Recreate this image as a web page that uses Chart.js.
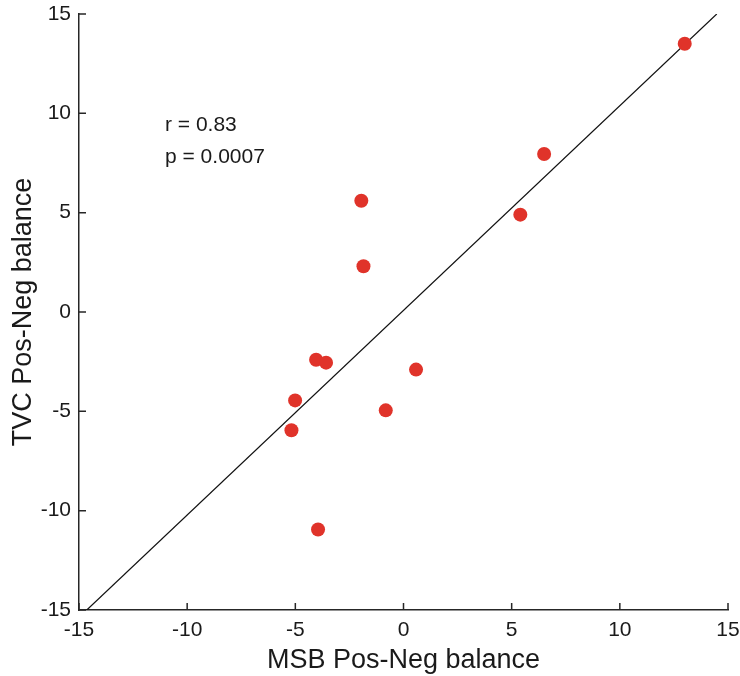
<!DOCTYPE html>
<html>
<head>
<meta charset="utf-8">
<script src="https://cdn.jsdelivr.net/npm/chart.js@4.4.1/dist/chart.umd.min.js"></script>
<style>
html,body{margin:0;padding:0;background:#fff;}
#wrap{width:740px;height:676px;}
</style>
</head>
<body>
<div id="wrap"><canvas id="c" width="740" height="676"></canvas></div>
<script>
const msb = [13.0, 6.5, 5.4, -1.95, -1.85, -4.04, -3.58, -5.01, -5.18, 0.58, -0.82, -3.95];
const tvc = [13.5, 7.95, 4.9, 5.6, 2.3, -2.4, -2.55, -4.45, -5.95, -2.9, -4.95, -10.95];
const fitX = [-14.64, 14.48];
const fitY = [-15, 15];
const tickValues = [-15, -10, -5, 0, 5, 10, 15];
const xTitle = 'MSB Pos-Neg balance';
const yTitle = 'TVC Pos-Neg balance';
const statsText = ['r = 0.83', 'p = 0.0007'];

const FONT = "'Liberation Sans', Arial, sans-serif";
const axisColor = '#262626';

const inwardTicks = {
  id: 'inwardTicks',
  afterDraw(chart) {
    const ctx = chart.ctx, xs = chart.scales.x, ys = chart.scales.y, a = chart.chartArea;
    ctx.save();
    ctx.strokeStyle = axisColor;
    ctx.lineWidth = 1.5;
    ctx.beginPath();
    tickValues.forEach(v => {
      const px = xs.getPixelForValue(v);
      ctx.moveTo(px, a.bottom); ctx.lineTo(px, a.bottom - 7);
      const py = ys.getPixelForValue(v);
      ctx.moveTo(a.left, py); ctx.lineTo(a.left + 7, py);
    });
    ctx.stroke();
    ctx.fillStyle = '#1a1a1a';
    ctx.font = '21px ' + FONT;
    ctx.textBaseline = 'middle';
    ctx.textAlign = 'left';
    ctx.fillText(statsText[0], a.left + 86, a.top + 111);
    ctx.fillText(statsText[1], a.left + 86, a.top + 143);
    ctx.restore();
  }
};

new Chart(document.getElementById('c'), {
  data: {
    datasets: [
      {
        type: 'line',
        data: fitX.map((x, i) => ({x, y: fitY[i]})),
        borderColor: '#111',
        borderWidth: 1.2,
        pointRadius: 0,
        fill: false,
        order: 2
      },
      {
        type: 'scatter',
        data: msb.map((x, i) => ({x, y: tvc[i]})),
        backgroundColor: '#E0332A',
        borderColor: '#E0332A',
        borderWidth: 0,
        pointRadius: 7,
        order: 1
      }
    ]
  },
  options: {
    responsive: false,
    animation: false,
    devicePixelRatio: 1,
    layout: { padding: { left: 0, right: 12, top: 14, bottom: 0 } },
    plugins: { legend: { display: false }, tooltip: { enabled: false } },
    scales: {
      x: {
        type: 'linear', min: -15, max: 15,
        afterBuildTicks: s => { s.ticks = tickValues.map(v => ({value: v})); },
        afterFit: s => { s.height = 66; s.paddingLeft = 0; s.paddingRight = 0; },
        grid: { display: false, drawTicks: false },
        border: { display: true, color: axisColor, width: 1.5 },
        ticks: { color: '#1a1a1a', font: { family: FONT, size: 21 }, padding: 8, maxRotation: 0 },
        title: { display: true, text: xTitle, color: '#1a1a1a', font: { family: FONT, size: 27, lineHeight: 1.15 }, padding: { top: 0, bottom: 0 } }
      },
      y: {
        type: 'linear', min: -15, max: 15,
        afterBuildTicks: s => { s.ticks = tickValues.map(v => ({value: v})); },
        afterFit: s => { s.width = 79; s.paddingTop = 0; s.paddingBottom = 0; },
        grid: { display: false, drawTicks: false },
        border: { display: true, color: axisColor, width: 1.5 },
        ticks: { color: '#1a1a1a', font: { family: FONT, size: 21 }, padding: 8 },
        title: { display: true, text: yTitle, color: '#1a1a1a', font: { family: FONT, size: 27 }, padding: { top: 7, bottom: 0 } }
      }
    }
  },
  plugins: [inwardTicks]
});
</script>
</body>
</html>
